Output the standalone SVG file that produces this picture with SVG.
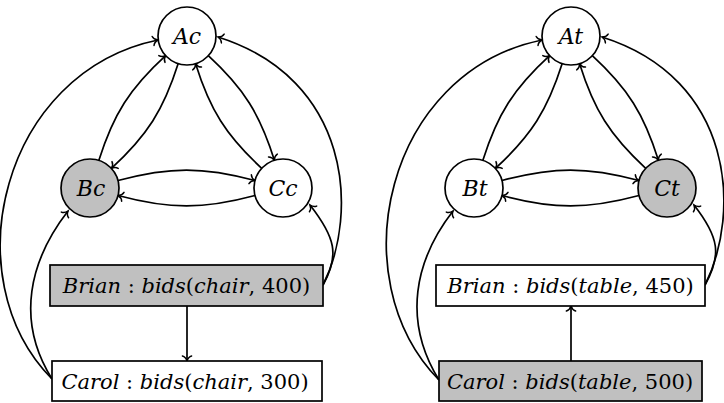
<svg xmlns="http://www.w3.org/2000/svg" width="724" height="403" viewBox="0 0 724 403">
<style>
.nd{stroke:#000;stroke-width:1.7;fill:#fff}
.gr{fill:#c0c0c0}
.lb{font-family:"DejaVu Serif","Liberation Serif",serif;font-size:22px;fill:#000}
.bx{font-size:21px}
.it{font-style:italic}
.ed{fill:none;stroke:#000;stroke-width:1.7;marker-end:url(#arr)}
</style>
<defs>
<marker id="arr" markerUnits="userSpaceOnUse" orient="auto" refX="0" refY="0" markerWidth="14" markerHeight="14" viewBox="-7 -7 14 14" overflow="visible">
<path d="M-5,-4.6 C-4.3,-2.1 -1.6,-0.5 0,0 C-1.6,0.5 -4.3,2.1 -5,4.6" fill="none" stroke="#000" stroke-width="1.5" stroke-linecap="round"/>
</marker>
</defs>

<g id="connectors">
<g id="left-tri">
<path class="ed" d="M178.2,63.6 C163.5,110 147.3,135.5 111.4,168.4"/>
<path class="ed" d="M98.8,160.4 C113.5,114 129.7,88.5 165.6,55.6"/>
<path class="ed" d="M208.3,55.7 C243.9,88.5 260,114.1 274.4,160.3"/>
<path class="ed" d="M261.7,168.3 C226.1,135.5 210,109.9 195.6,63.7"/>
<path class="ed" d="M118,180.5 C169.8,166.6 203.2,166.6 255,180.5"/>
<path class="ed" d="M255,195.5 C203.2,209.4 169.8,209.4 118,195.5"/>
</g>
<path class="ed" d="M52,379 C-48,278 2,72 158,40"/>
<path class="ed" d="M52,379 C15,320 30,260 68,211"/>
<path class="ed" d="M323,285 C359,213 351,79 218,37"/>
<path class="ed" d="M323,285 C340,255 335,237 310,205"/>
<path class="ed" d="M187,306 L187,361"/>
<g id="right-tri" transform="translate(384,0)">
<path class="ed" d="M178.2,63.6 C163.5,110 147.3,135.5 111.4,168.4"/>
<path class="ed" d="M98.8,160.4 C113.5,114 129.7,88.5 165.6,55.6"/>
<path class="ed" d="M208.3,55.7 C243.9,88.5 260,114.1 274.4,160.3"/>
<path class="ed" d="M261.7,168.3 C226.1,135.5 210,109.9 195.6,63.7"/>
<path class="ed" d="M118,180.5 C169.8,166.6 203.2,166.6 255,180.5"/>
<path class="ed" d="M255,195.5 C203.2,209.4 169.8,209.4 118,195.5"/>
</g>
<path class="ed" d="M439,380 C339,278 386,72 542,40"/>
<path class="ed" d="M439,380 C402,320 415,260 453,211"/>
<path class="ed" d="M705,285 C741,213 735,79 602,37"/>
<path class="ed" d="M705,285 C722,255 719,237 694,205"/>
<path class="ed" d="M571,361 L571,306"/>
</g>

<g id="Ac"><circle class="nd" cx="187" cy="36" r="29"/><text class="lb it" x="187" y="44" text-anchor="middle">Ac</text></g>
<g id="Bc"><circle class="nd gr" cx="90" cy="188" r="29"/><text class="lb it" x="91" y="196" text-anchor="middle">Bc</text></g>
<g id="Cc"><circle class="nd" cx="283" cy="188" r="29"/><text class="lb it" x="283" y="196" text-anchor="middle">Cc</text></g>
<g id="BrianChair"><rect class="nd gr" x="50" y="265" width="273" height="41"/><text class="lb bx" x="186.5" y="293" text-anchor="middle"><tspan class="it">Brian</tspan> : <tspan class="it">bids</tspan>(<tspan class="it">chair</tspan>, 400)</text></g>
<g id="CarolChair"><rect class="nd" x="52" y="361" width="270" height="40"/><text class="lb bx" x="185" y="389" text-anchor="middle"><tspan class="it">Carol</tspan> : <tspan class="it">bids</tspan>(<tspan class="it">chair</tspan>, 300)</text></g>

<g id="At"><circle class="nd" cx="571" cy="36" r="29"/><text class="lb it" x="571" y="44" text-anchor="middle">At</text></g>
<g id="Bt"><circle class="nd" cx="474" cy="188" r="29"/><text class="lb it" x="475" y="196" text-anchor="middle">Bt</text></g>
<g id="Ct"><circle class="nd gr" cx="667" cy="188" r="29"/><text class="lb it" x="667" y="196" text-anchor="middle">Ct</text></g>
<g id="BrianTable"><rect class="nd" x="436" y="265" width="269" height="41"/><text class="lb bx" x="570.5" y="293" text-anchor="middle"><tspan class="it">Brian</tspan> : <tspan class="it">bids</tspan>(<tspan class="it">table</tspan>, 450)</text></g>
<g id="CarolTable"><rect class="nd gr" x="439" y="361" width="263" height="40"/><text class="lb bx" x="570" y="389" text-anchor="middle"><tspan class="it">Carol</tspan> : <tspan class="it">bids</tspan>(<tspan class="it">table</tspan>, 500)</text></g>
</svg>
